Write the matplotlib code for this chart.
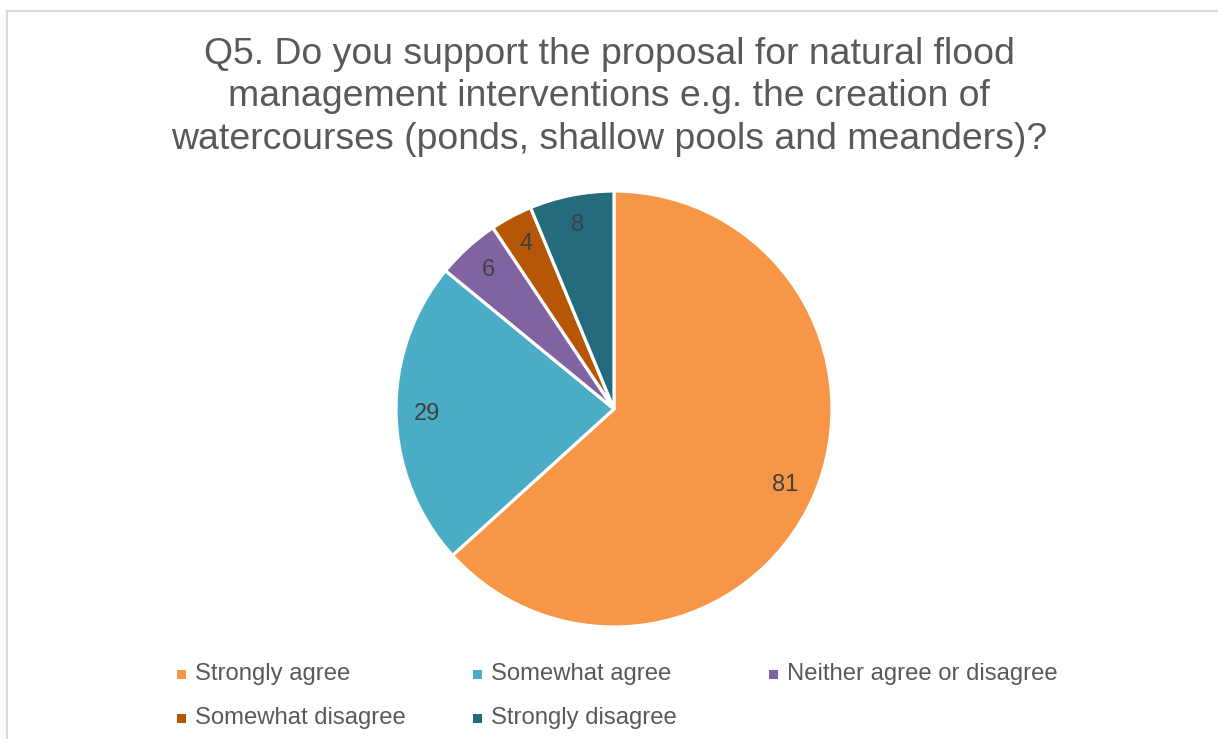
# -*- coding: utf-8 -*-
# --- plot.py : Q5 natural flood management pie ---
import matplotlib
matplotlib.use('Agg')
import matplotlib.pyplot as plt
from matplotlib.lines import Line2D
from matplotlib.patches import Rectangle

# --- Data ---------------------------------------------------------------------
lCat = ['Strongly agree', 'Somewhat agree', 'Neither agree or disagree',
        'Somewhat disagree', 'Strongly disagree']
lVal = [81, 29, 6, 4, 8]
lCol = ['#F79646', '#4BACC6', '#8064A2', '#B65708', '#236B7D']
sTtl = ('Q5. Do you support the proposal for natural flood\n'
        'management interventions e.g. the creation of\n'
        'watercourses (ponds, shallow pools and meanders)?')

plt.rcParams['font.family'] = ['Liberation Sans', 'DejaVu Sans']
W, H = 1218, 739

# --- Figure ---------------------------------------------------------------------
cFig = plt.figure(figsize = (W / 100, H / 100), dpi = 100)
cFig.patch.set_facecolor('white')

# chart border (top and left edges visible)
cFig.add_artist(Line2D([7 / W, 7 / W], [0, 1 - 11 / H], color = '#D9D9D9',
                       lw = 1.5, transform = cFig.transFigure))
cFig.add_artist(Line2D([7 / W, 1], [1 - 11 / H, 1 - 11 / H], color = '#D9D9D9',
                       lw = 1.5, transform = cFig.transFigure))

cFig.text(609 / W, 1 - 97 / H, sTtl, ha = 'center', va = 'center',
          fontsize = 26.9, color = '#595959', linespacing = 1.26)

# pie
cX, cY, cR = 614, 409, 218
ax = cFig.add_axes([(cX - cR) / W, (H - cY - cR) / H, 2 * cR / W, 2 * cR / H])
nTot = sum(lVal)
wdg, txt, atxt = ax.pie(lVal, colors = lCol, startangle = 90,
                        counterclock = False, radius = 1,
                        autopct = lambda p: '%d' % round(p * nTot / 100),
                        pctdistance = 0.86,
                        wedgeprops = dict(edgecolor = 'white', linewidth = 2.3),
                        textprops = dict(fontsize = 17, color = '#404040'))
ax.set_xlim(-1.0, 1.0)
ax.set_ylim(-1.0, 1.0)
ax.set_aspect('equal')
ax.axis('off')

# legend (row-wise, equal column spacing)
for i, (sCat, sCol) in enumerate(zip(lCat, lCol)):
    iR, iC = divmod(i, 3)
    xM, yM = 181 + 296 * iC, 674 + 44 * iR
    cFig.add_artist(Rectangle(((xM - 4.5) / W, 1 - (yM + 4.5) / H), 9 / W, 9 / H,
                              facecolor = sCol, edgecolor = 'none',
                              transform = cFig.transFigure))
    cFig.text((xM + 14) / W, 1 - yM / H, sCat, ha = 'left', va = 'center',
              fontsize = 17.2, color = '#595959')

plt.savefig('out.png', dpi = 100, facecolor = 'white')
plt.close()
